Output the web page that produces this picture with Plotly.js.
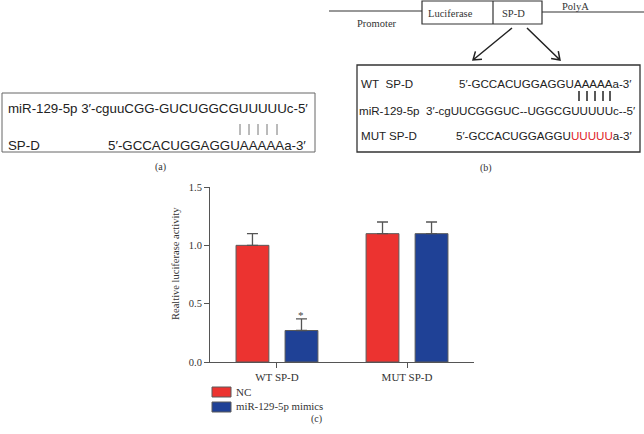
<!DOCTYPE html>
<html>
<head>
<meta charset="utf-8">
<script src="https://cdn.plot.ly/plotly-3.0.1.min.js"></script>
<style>html,body{margin:0;padding:0;background:#fff;}#chart{width:644px;height:434px;}</style>
</head>
<body>
<div id="chart"></div>
<script>
// ---- data ----
const categories = ['WT SP-D', 'MUT SP-D'];
const ncValues = [1.0, 1.1];
const ncErrors = [0.1, 0.1];
const mimicValues = [0.27, 1.1];
const mimicErrors = [0.1, 0.1];
const seriesNames = ['NC', 'miR-129-5p mimics'];
const yTickVals = [0, 0.5, 1.0, 1.5];
const yTickText = ['0.0', '0.5', '1.0', '1.5'];

// ---- styling ----
const W = 644, H = 434;
const RED = '#ec3330', BLUE = '#1f4196', EDGE = '#5a5a5a';
const SERIF = '"Liberation Serif", "Times New Roman", serif';
const SANS = '"Liberation Sans", Arial, sans-serif';
const px = x => x / W;
const py = y => 1 - y / H;

const shapes = [];
const annotations = [];
function line(x0, y0, x1, y1, color, width) {
  shapes.push({type: 'line', xref: 'paper', yref: 'paper', x0: px(x0), y0: py(y0), x1: px(x1), y1: py(y1),
    line: {color: color, width: width}});
}
function rect(x0, y0, x1, y1, color, width, fill) {
  shapes.push({type: 'rect', xref: 'paper', yref: 'paper', x0: px(x0), y0: py(y0), x1: px(x1), y1: py(y1),
    line: {color: color, width: width}, fillcolor: fill || 'rgba(0,0,0,0)'});
}
function arrow(xt, yt, xh, yh, color, width) {
  const dx = xh - xt, dy = yh - yt, L = Math.hypot(dx, dy);
  const ux = -dx / L, uy = -dy / L, hl = 9, a = 35 * Math.PI / 180;
  const h1 = [xh + hl * (ux * Math.cos(a) - uy * Math.sin(a)), yh + hl * (ux * Math.sin(a) + uy * Math.cos(a))];
  const h2 = [xh + hl * (ux * Math.cos(a) + uy * Math.sin(a)), yh + hl * (-ux * Math.sin(a) + uy * Math.cos(a))];
  const P = (x, y) => px(x) + ',' + py(y);
  shapes.push({type: 'path', xref: 'paper', yref: 'paper',
    path: 'M' + P(xt, yt) + 'L' + P(xh, yh) + 'M' + P(h1[0], h1[1]) + 'L' + P(xh, yh) + 'L' + P(h2[0], h2[1]),
    line: {color: color, width: width}});
}
function text(t, x, y, anchor, font, size, color, extra) {
  annotations.push(Object.assign({text: t, xref: 'paper', yref: 'paper', x: px(x), y: py(y),
    xanchor: anchor, yanchor: 'middle', showarrow: false,
    font: {family: font, size: size, color: color || '#222'}}, extra || {}));
}

// ---- panel (a) ----
rect(2, 93, 315, 152, '#666', 1);
[240, 249, 258, 267, 277].forEach(x => line(x, 124, x, 135, '#777', 1));
text('miR-129-5p 3\u2032-cguuCGG-GUCUGGCGUUUUUc-5\u2032', 6, 108, 'left', SANS, 13.3);
text('SP-D', 6, 145, 'left', SANS, 13.3);
text('5\u2032-GCCACUGGAGGUAAAAAa-3\u2032', 308, 145, 'right', SANS, 13.3);
text('(a)', 160, 167, 'center', SERIF, 10, '#333');

// ---- panel (b) ----
line(329, 11, 422, 11, '#333', 1.2);
line(542, 12, 644, 12, '#333', 1.2);
rect(422, 1, 542, 24, '#333', 1.2);
line(493, 1, 493, 24, '#333', 1.2);
text('Promoter', 377, 23, 'center', SERIF, 10.5, '#333');
text('Luciferase', 450, 13, 'center', SERIF, 10.5, '#333');
text('SP-D', 513, 13, 'center', SERIF, 10.5, '#333');
text('PolyA', 575, 6, 'center', SERIF, 10.5, '#333');
arrow(512, 28, 473, 60, '#222', 1.5);
arrow(527, 28, 560, 60, '#222', 1.5);
rect(357, 65, 640, 152, '#333', 1.3);
[579, 587, 595, 603, 610].forEach(x => line(x, 91, x, 101, '#222', 1.5));
text('WT&nbsp;&nbsp;SP-D', 359, 83, 'left', SANS, 11.6);
text('5\u2032-GCCACUGGAGGUAAAAAa-3\u2032', 634, 83, 'right', SANS, 11.6);
text('miR-129-5p&nbsp;&nbsp;3\u2032-cgUUCGGGUC--UGGCGUUUUUc--5\u2032', 637, 110, 'right', SANS, 11.6);
text('MUT SP-D', 359, 135, 'left', SANS, 11.6);
text('5\u2032-GCCACUGGAGGU<span style="color:#e0242a">UUUUU</span>a-3\u2032', 634, 135, 'right', SANS, 11.6);
text('(b)', 486, 168, 'center', SERIF, 10, '#333');

// ---- panel (c) ----
text('Realtive luciferase activity', 175, 264, 'center', SERIF, 10.5, '#333', {textangle: -90});
rect(212, 387, 231, 397, EDGE, 1, RED);
rect(212, 402, 231, 412, EDGE, 1, BLUE);
text(seriesNames[0], 234, 392, 'left', SERIF, 11, '#333');
text(seriesNames[1], 234, 406, 'left', SERIF, 10.8, '#333');
text('(c)', 316, 419, 'center', SERIF, 10, '#333');
annotations.push({text: '*', xref: 'x', yref: 'y', x: 0.188, y: mimicValues[0] + mimicErrors[0] + 0.03,
  xanchor: 'center', yanchor: 'middle', showarrow: false, font: {family: SERIF, size: 11, color: '#444'}});

const errStyle = {type: 'data', symmetric: false, arrayminus: [0, 0], color: '#555', thickness: 1.3, width: 5.5};
const traces = [
  {type: 'bar', name: seriesNames[0], x: categories, y: ncValues,
   marker: {color: RED, line: {color: EDGE, width: 1}},
   error_y: Object.assign({array: ncErrors}, errStyle)},
  {type: 'bar', name: seriesNames[1], x: categories, y: mimicValues,
   marker: {color: BLUE, line: {color: EDGE, width: 1}},
   error_y: Object.assign({array: mimicErrors}, errStyle)}
];

const layout = {
  width: W, height: H,
  margin: {l: 0, r: 0, t: 0, b: 0},
  paper_bgcolor: '#fff', plot_bgcolor: '#fff',
  showlegend: false,
  barmode: 'group', bargap: 0.246, bargroupgap: 0.33,
  xaxis: {domain: [210 / W, 474 / W], range: [-0.515, 1.515], type: 'category',
    showline: true, linecolor: '#555', linewidth: 1, ticks: 'outside', ticklen: 5, tickcolor: '#555',
    showgrid: false, zeroline: false, tickfont: {family: SERIF, size: 11, color: '#333'}, fixedrange: true},
  yaxis: {domain: [(H - 362) / H, (H - 187) / H], range: [0, 1.5],
    tickvals: yTickVals, ticktext: yTickText,
    showline: true, linecolor: '#555', linewidth: 1, ticks: 'outside', ticklen: 5, tickcolor: '#555',
    showgrid: false, zeroline: false, tickfont: {family: SERIF, size: 10.5, color: '#333'}, fixedrange: true},
  shapes: shapes,
  annotations: annotations
};

Plotly.newPlot('chart', traces, layout, {displayModeBar: false, staticPlot: true});
</script>
</body>
</html>
